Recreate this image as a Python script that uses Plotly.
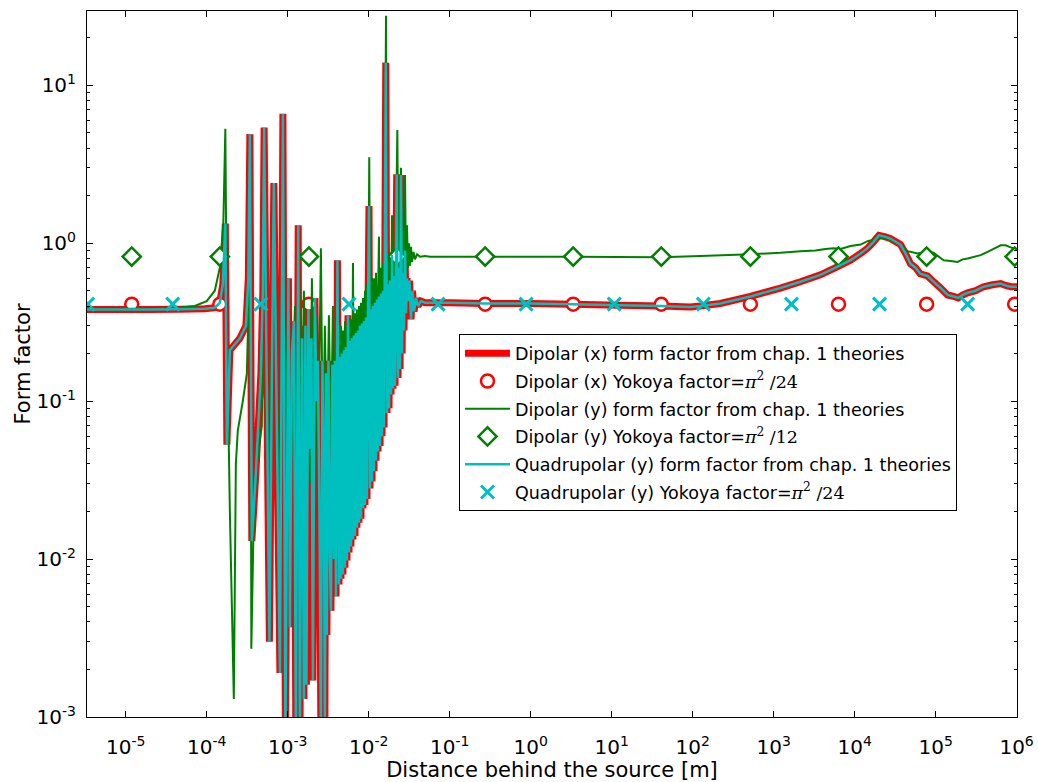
import numpy as np
import plotly.graph_objects as go

# ---------------- data (log10 of distance [m], form factor) ----------------
# Dipolar (x) form factor (red); the quadrupolar (y) curve (cyan) lies on top of it.
DIP_X_LEFT = [(-5.478, 0.38), (-4.703, 0.38), (-4.333, 0.381), (-4.024, 0.384), (-3.900, 0.39),
              (-3.838, 0.42), (-3.801, 0.55), (-3.770, 1.33), (-3.751, 0.053), (-3.714, 0.21),
              (-3.591, 0.25), (-3.516, 0.30), (-3.486, 0.6), (-3.467, 4.9), (-3.443, 0.013),
              (-3.393, 0.035), (-3.331, 0.15), (-3.307, 0.5), (-3.291, 5.4), (-3.226, 0.003),
              (-3.195, 0.15), (-3.171, 2.4), (-3.096, 0.0019), (-3.059, 6.6), (-3.028, 0.0007),
              (-2.991, 0.6), (-2.973, 0.0037), (-2.948, 0.2), (-2.923, 0.32), (-2.899, 0.0007),
              (-2.870, 1.3)]
DIP_X_MID = [(-2.849, 0.0007), (-2.824, 0.25), (-2.800, 0.0013), (-2.781, 0.3), (-2.769, 0.0016),
             (-2.744, 0.38), (-2.726, 0.05), (-2.707, 0.25), (-2.689, 0.0017), (-2.664, 0.45),
             (-2.646, 0.1), (-2.627, 0.18), (-2.608, 0.02), (-2.590, 0.0008), (-2.571, 0.18),
             (-2.553, 0.03), (-2.541, 0.0009), (-2.528, 0.15), (-2.516, 0.0033), (-2.497, 0.18),
             (-2.478, 0.01), (-2.466, 0.0047), (-2.448, 0.17), (-2.429, 0.01), (-2.417, 0.18),
             (-2.404, 0.0058), (-2.386, 0.78), (-2.367, 0.0069)]
DIP_X_DENSE = [(-2.355, 0.19), (-2.342, 0.0075), (-2.330, 0.2), (-2.318, 0.008), (-2.305, 0.21),
               (-2.293, 0.0088), (-2.281, 0.22), (-2.268, 0.0098), (-2.256, 0.35), (-2.243, 0.011),
               (-2.231, 0.24), (-2.219, 0.012), (-2.206, 0.25), (-2.194, 0.0133), (-2.182, 0.26),
               (-2.169, 0.014), (-2.157, 0.27), (-2.145, 0.0158), (-2.132, 0.28), (-2.120, 0.017),
               (-2.108, 0.3), (-2.095, 0.018), (-2.083, 0.31), (-2.070, 0.021), (-2.058, 0.32),
               (-2.046, 0.022), (-2.033, 0.34), (-2.021, 0.024), (-2.009, 0.36), (-1.996, 1.72),
               (-1.984, 0.028), (-1.972, 0.38), (-1.959, 0.031), (-1.947, 0.4), (-1.935, 0.036),
               (-1.922, 0.42), (-1.910, 0.042), (-1.897, 0.44), (-1.885, 0.048), (-1.873, 0.46),
               (-1.860, 0.052), (-1.848, 0.48), (-1.836, 0.06), (-1.823, 0.5), (-1.811, 0.068),
               (-1.789, 13.9), (-1.774, 0.084), (-1.761, 0.55), (-1.749, 0.09), (-1.737, 0.58),
               (-1.724, 0.11), (-1.712, 0.84), (-1.700, 0.12), (-1.687, 0.62), (-1.675, 0.125),
               (-1.654, 2.73), (-1.638, 0.14), (-1.626, 0.7), (-1.613, 0.16), (-1.601, 2.7),
               (-1.588, 0.2), (-1.576, 0.65), (-1.564, 0.28), (-1.551, 0.9), (-1.539, 0.36),
               (-1.527, 0.6), (-1.514, 0.43), (-1.496, 0.58), (-1.477, 0.33), (-1.459, 0.5),
               (-1.440, 0.37), (-1.415, 0.45), (-1.391, 0.4), (-1.354, 0.43), (-1.305, 0.42)]
DIP_X_FAR = [(-0.996, 0.42), (-0.563, 0.415), (-0.006, 0.415), (0.525, 0.41), (1.106, 0.405),
             (1.613, 0.40), (1.972, 0.395), (2.095, 0.40), (2.342, 0.415), (2.713, 0.46),
             (3.084, 0.52), (3.331, 0.57), (3.578, 0.63), (3.740, 0.69), (3.950, 0.78),
             (4.074, 0.86), (4.160, 0.93), (4.234, 1.02), (4.300, 1.12), (4.370, 1.10),
             (4.440, 1.07), (4.567, 0.98), (4.629, 0.86), (4.690, 0.74), (4.753, 0.70),
             (4.810, 0.64), (4.900, 0.62), (4.975, 0.57), (5.062, 0.52), (5.148, 0.47),
             (5.222, 0.46), (5.280, 0.45), (5.334, 0.47), (5.396, 0.485), (5.494, 0.50),
             (5.593, 0.53), (5.704, 0.545), (5.803, 0.555), (5.865, 0.54), (5.927, 0.53),
             (6.014, 0.53)]

# Dipolar (y) form factor (green)
DIP_Y_LEFT = [(-5.478, 0.385), (-4.703, 0.385), (-4.333, 0.39), (-4.148, 0.40), (-4.0, 0.43),
              (-3.900, 0.5), (-3.838, 0.7), (-3.795, 1.3), (-3.770, 5.3), (-3.751, 0.3),
              (-3.714, 0.02), (-3.665, 0.0013), (-3.640, 0.04), (-3.616, 0.065), (-3.554, 0.10),
              (-3.504, 0.15), (-3.479, 0.5), (-3.461, 3.0), (-3.449, 0.0027), (-3.418, 0.02),
              (-3.381, 0.04), (-3.319, 0.07), (-3.294, 2.5), (-3.232, 0.02), (-3.171, 1.5),
              (-3.096, 0.01), (-3.059, 4.0), (-3.040, 0.03), (-2.991, 0.5), (-2.973, 0.02),
              (-2.911, 0.4), (-2.880, 0.02), (-2.860, 0.8), (-2.836, 0.03), (-2.800, 0.5),
              (-2.775, 0.05), (-2.750, 0.3), (-2.726, 0.03), (-2.701, 0.6), (-2.677, 0.04),
              (-2.652, 0.35), (-2.627, 0.03), (-2.590, 0.93), (-2.565, 0.04), (-2.541, 0.3),
              (-2.516, 0.05), (-2.491, 0.35), (-2.466, 0.05), (-2.441, 0.4), (-2.417, 0.06),
              (-2.392, 0.6), (-2.367, 0.06)]
DIP_Y_DENSE = [(-2.342, 0.3), (-2.330, 0.04), (-2.318, 0.28), (-2.305, 0.05), (-2.293, 0.32),
               (-2.281, 0.05), (-2.268, 0.3), (-2.256, 0.06), (-2.243, 0.35), (-2.231, 0.06),
               (-2.219, 0.33), (-2.206, 0.07), (-2.194, 0.75), (-2.182, 0.07), (-2.169, 0.36),
               (-2.157, 0.08), (-2.145, 0.38), (-2.132, 0.09), (-2.120, 0.4), (-2.108, 0.1),
               (-2.095, 0.42), (-2.083, 0.1), (-2.070, 0.45), (-2.058, 0.12), (-2.046, 0.5),
               (-2.033, 0.12), (-2.021, 0.55), (-2.009, 0.13), (-1.993, 3.5), (-1.978, 0.14),
               (-1.959, 0.6), (-1.947, 0.15), (-1.935, 0.6), (-1.922, 0.17), (-1.910, 0.65),
               (-1.897, 0.18), (-1.873, 1.1), (-1.860, 0.2), (-1.848, 0.7), (-1.836, 0.22),
               (-1.823, 0.75), (-1.811, 0.25), (-1.786, 27.5), (-1.774, 0.28), (-1.761, 0.8),
               (-1.749, 0.3), (-1.737, 0.85), (-1.724, 0.35), (-1.712, 1.5), (-1.700, 0.4),
               (-1.687, 0.9), (-1.675, 0.45), (-1.646, 5.2), (-1.632, 0.5), (-1.619, 1.0),
               (-1.601, 3.0), (-1.588, 0.6), (-1.576, 1.2), (-1.564, 0.6), (-1.551, 2.7),
               (-1.539, 0.65), (-1.527, 1.3), (-1.514, 0.7), (-1.502, 1.0), (-1.490, 0.72),
               (-1.477, 0.95), (-1.465, 0.76), (-1.446, 0.88), (-1.428, 0.79), (-1.403, 0.85),
               (-1.366, 0.82), (-1.305, 0.83), (-1.243, 0.82)]
DIP_Y_FAR = [(-0.563, 0.82), (0.525, 0.82), (1.613, 0.815), (2.095, 0.83), (2.713, 0.85),
             (3.084, 0.87), (3.331, 0.89), (3.517, 0.90), (3.640, 0.92), (3.740, 0.93),
             (3.826, 0.92), (3.950, 0.96), (4.074, 0.98), (4.160, 1.03), (4.234, 1.05),
             (4.320, 1.09), (4.440, 1.05), (4.567, 0.98), (4.654, 0.89), (4.778, 0.86),
             (4.876, 0.88), (4.975, 0.87), (5.099, 0.78), (5.185, 0.77), (5.272, 0.76),
             (5.334, 0.79), (5.396, 0.80), (5.556, 0.84), (5.680, 0.90), (5.803, 0.97),
             (5.865, 0.97), (5.927, 0.94), (6.014, 0.91)]

# Yokoya factor marker positions (log10 of distance)
CIRCLE_LOGX = [-4.926, -3.838, -2.738, -1.650, -0.562, 0.525, 1.613, 2.713, 3.801, 4.889, 5.976]
DIAMOND_LOGX = [-4.926, -3.838, -2.738, -1.650, -0.562, 0.525, 1.613, 2.713, 3.801, 4.889, 5.976]
CROSS_LOGX = [-5.470, -4.419, -3.331, -2.243, -1.143, -0.056, 1.032, 2.132, 3.220, 4.308, 5.396]
YOKOYA_X = np.pi ** 2 / 24
YOKOYA_Y = np.pi ** 2 / 12
YOKOYA_Q = np.pi ** 2 / 24

X_TICK_EXP = list(range(-5, 7))
Y_TICK_EXP = list(range(-3, 2))


def unpack(*segments):
    pts = [p for seg in segments for p in seg]
    lx, y = zip(*pts)
    return 10 ** np.array(lx), np.array(y)


dip_x_x, dip_x_y = unpack(DIP_X_LEFT, DIP_X_MID, DIP_X_DENSE, DIP_X_FAR)
dip_y_x, dip_y_y = unpack(DIP_Y_LEFT, DIP_Y_DENSE, DIP_Y_FAR)
quad_x, quad_y = dip_x_x, dip_x_y

RED = "#ff0000"
GREEN = "#008000"
CYAN = "#00bfbf"


def math(den):
    return ("<span style=\"font-family:'DejaVu Serif'\"><i>π</i><sup>2</sup> /" + den + "</span>")


fig = go.Figure()
fig.add_trace(go.Scatter(x=dip_x_x, y=dip_x_y, mode="lines", line=dict(color=RED, width=7, simplify=False),
                         name="Dipolar (x) form factor from chap. 1 theories", legendgroup="a"))
fig.add_trace(go.Scatter(x=10 ** np.array(CIRCLE_LOGX), y=[YOKOYA_X] * len(CIRCLE_LOGX), mode="markers",
                         marker=dict(symbol="circle", size=13, color="white", line=dict(color=RED, width=2.5)),
                         name="Dipolar (x) Yokoya factor=" + math("24"), legendgroup="b"))
fig.add_trace(go.Scatter(x=dip_y_x, y=dip_y_y, mode="lines", line=dict(color=GREEN, width=2, simplify=False),
                         name="Dipolar (y) form factor from chap. 1 theories", legendgroup="c"))
fig.add_trace(go.Scatter(x=10 ** np.array(DIAMOND_LOGX), y=[YOKOYA_Y] * len(DIAMOND_LOGX), mode="markers",
                         marker=dict(symbol="diamond", size=14, color="white", line=dict(color=GREEN, width=2.5)),
                         name="Dipolar (y) Yokoya factor=" + math("12"), legendgroup="d"))
fig.add_trace(go.Scatter(x=quad_x, y=quad_y, mode="lines", line=dict(color=CYAN, width=2.5, simplify=False),
                         name="Quadrupolar (y) form factor from chap. 1 theories", legendgroup="e"))
fig.add_trace(go.Scatter(x=10 ** np.array(CROSS_LOGX), y=[YOKOYA_Q] * len(CROSS_LOGX), mode="markers",
                         marker=dict(symbol="x-thin", size=13, color=CYAN, line=dict(color=CYAN, width=3)),
                         name="Quadrupolar (y) Yokoya factor=" + math("24"), legendgroup="f"))

y_minor = [m * 10.0 ** e for e in range(-3, 2) for m in range(2, 10)]

fig.update_layout(
    width=1038, height=782,
    margin=dict(l=87, r=21, t=11, b=65),
    paper_bgcolor="white", plot_bgcolor="white",
    font=dict(family="DejaVu Sans", color="black"),
    showlegend=True,
    legend=dict(x=0.4, y=0.542, xanchor="left", yanchor="top",
                bgcolor="white", bordercolor="black", borderwidth=1,
                font=dict(size=17.5, family="DejaVu Sans"), tracegroupgap=2,
                itemwidth=45),
    xaxis=dict(type="log", range=[-5.478, 6.005], showgrid=False, zeroline=False, automargin=False,
               showline=True, linecolor="black", linewidth=1, mirror="ticks",
               ticks="inside", ticklen=6, tickcolor="black",
               tickvals=[10.0 ** e for e in X_TICK_EXP],
               ticktext=[f"10<sup>{e}</sup>" for e in X_TICK_EXP],
               tickfont=dict(size=20), ticklabelstandoff=12,
               title=dict(text="Distance behind the source [m]", font=dict(size=21), standoff=0)),
    yaxis=dict(type="log", range=[-3, 1.47], showgrid=False, zeroline=False, automargin=False,
               showline=True, linecolor="black", linewidth=1, mirror="ticks",
               ticks="inside", ticklen=6, tickcolor="black",
               tickvals=[10.0 ** e for e in Y_TICK_EXP],
               ticktext=[f"10<sup>{e}</sup>" for e in Y_TICK_EXP],
               tickfont=dict(size=20), ticklabelstandoff=6,
               minor=dict(ticks="inside", ticklen=3, tickcolor="black", tickvals=y_minor, showgrid=False),
               title=dict(text="Form factor", font=dict(size=21), standoff=0)),
)

fig.write_html("out.html")
